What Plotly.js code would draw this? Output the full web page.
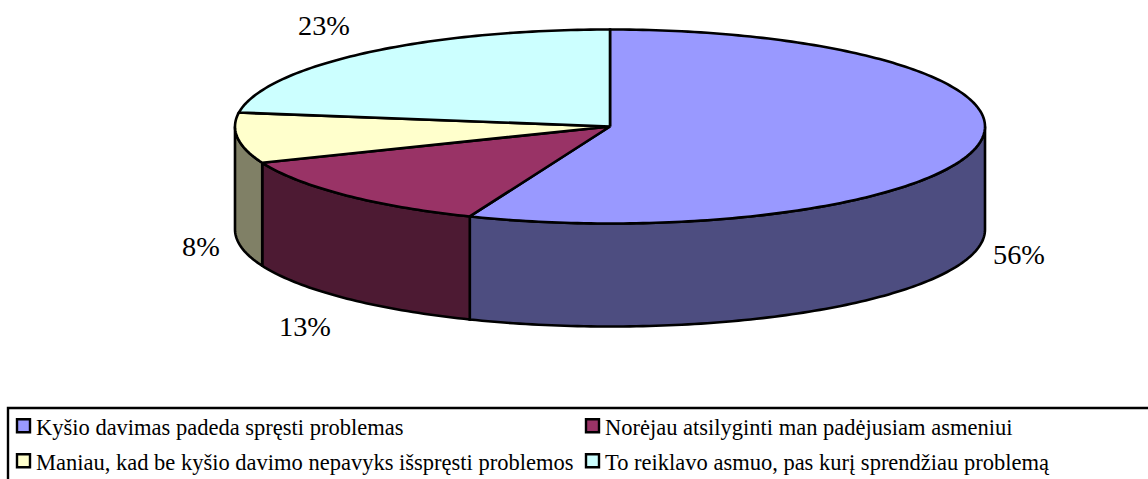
<!DOCTYPE html>
<html><head><meta charset="utf-8">
<script src="https://cdn.plot.ly/plotly-3.0.1.min.js"></script>
<style>html,body{margin:0;padding:0;background:#fff;overflow:hidden}</style>
</head><body><div id="chart" style="width:1148px;height:479px"></div>
<script>
const categories = ["Kyšio davimas padeda spręsti problemas","Norėjau atsilyginti man padėjusiam asmeniui","Maniau, kad be kyšio davimo nepavyks išspręsti problemos","To reiklavo asmuo, pas kurį sprendžiau problemą"];
const values = [56.1,12.8,8.4,22.7];
const topColors = ["#9999FF","#993366","#FFFFCC","#CCFFFF"];
const sideColors = ["#4D4D80","#4D1A33","#808066","#668080"];
const labelPos = [[1019,254],[305,326],[201,246],[324,25]];
const legendPos = [[16,427],[585,427],[16,462],[585,462]];

const cx=610, cy=126.5, rx=375, ry=97, depth=103;
const total = values.reduce((a,b)=>a+b,0);
const pt=(deg,dy=0)=>{const r=deg*Math.PI/180;return [cx+rx*Math.sin(r), cy-ry*Math.cos(r)+dy];};
const arc=(a,b,dy)=>{const out=[];const n=Math.max(2,Math.ceil(Math.abs(b-a)));for(let i=0;i<=n;i++)out.push(pt(a+(b-a)*i/n,dy));return out;};
const poly=(pts,fill,name)=>({type:'scatter',mode:'lines',x:pts.map(p=>p[0]),y:pts.map(p=>p[1]),fill:'toself',fillcolor:fill,
  line:{color:'#000',width:2.6,simplify:false},hoverinfo:'text',text:name,showlegend:false});

const traces=[]; let c=0; const tops=[];
values.forEach((v,i)=>{
  const a=c/total*360, b=(c+v)/total*360; c+=v;
  const sa=Math.max(a,90), sb=Math.min(b,270);
  if(sb>sa){ traces.push(poly(arc(sa,sb,0).concat(arc(sb,sa,depth)).concat([pt(sa)]),sideColors[i],categories[i])); }
  tops.push(poly([[cx,cy]].concat(arc(a,b,0)).concat([[cx,cy]]),topColors[i],categories[i]));
});
traces.push(...tops);
traces.push({type:'scatter',mode:'markers',x:legendPos.map(p=>p[0]+7.5),y:legendPos.map(p=>p[1]-1.2),
  marker:{symbol:'square',size:13,color:topColors,line:{color:'#000',width:2.4}},hoverinfo:'skip',showlegend:false});

const font={family:'"Liberation Serif","Times New Roman",serif',color:'#000'};
const annotations=values.map((v,i)=>({x:labelPos[i][0],y:labelPos[i][1],text:Math.round(v/total*100)+'%',showarrow:false,
  xanchor:'center',yanchor:'middle',font:{...font,size:28.3}}));
categories.forEach((t,i)=>annotations.push({x:legendPos[i][0]+18,y:legendPos[i][1],text:t,showarrow:false,xanchor:'left',yanchor:'middle',
  font:{...font,size:22.5}}));

Plotly.newPlot('chart',traces,{
  width:1148,height:479,margin:{l:0,r:0,t:0,b:0},paper_bgcolor:'#fff',plot_bgcolor:'#fff',showlegend:false,
  xaxis:{range:[0,1148],visible:false,fixedrange:true},
  yaxis:{range:[479,0],visible:false,fixedrange:true},
  shapes:[{type:'rect',xref:'x',yref:'y',x0:8,y0:408,x1:1160,y1:490,line:{color:'#000',width:2.4},fillcolor:'rgba(0,0,0,0)'}],
  annotations
},{displayModeBar:false,staticPlot:true});
</script></body></html>
